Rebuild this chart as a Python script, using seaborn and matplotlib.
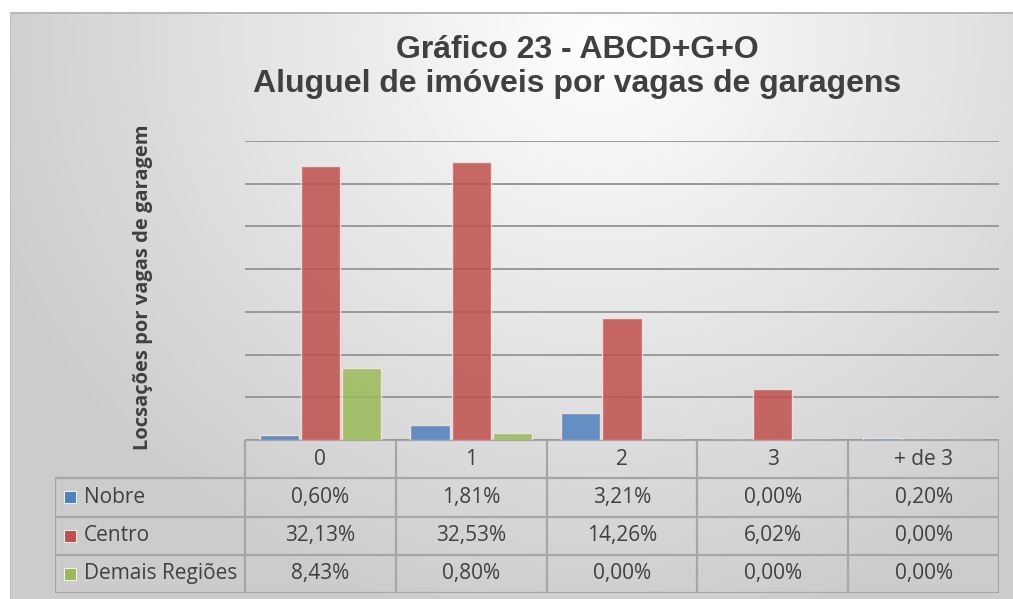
import numpy as np
import pandas as pd
import matplotlib
matplotlib.use("Agg")
import matplotlib.pyplot as plt
import seaborn as sns

# percentual de locações por número de vagas de garagem
categorias = ['0', '1', '2', '3', '+ de 3']
regioes = ['Nobre', 'Centro', 'Demais Regiões']
nobre = [0.60, 1.81, 3.21, 0.00, 0.20]
centro = [32.13, 32.53, 14.26, 6.02, 0.00]
demais = [8.43, 0.80, 0.00, 0.00, 0.00]
cores = ['#4f81bd', '#c0504d', '#9bbb59']

valores = {'Nobre': nobre, 'Centro': centro, 'Demais Regiões': demais}
rows = []
for reg in regioes:
    for cat, v in zip(categorias, valores[reg]):
        rows.append([cat, reg, v])
df = pd.DataFrame(rows, columns=['vagas', 'regiao', 'pct'])

sns.set_style('white')
plt.rcParams['font.family'] = ['Open Sans', 'DejaVu Sans']

W, H = 1013, 599
fig = plt.figure(figsize=(W / 100, H / 100), dpi=100)

# fundo em degradê (estilo Excel)
bg = fig.add_axes([0, 0, 1, 1], zorder=-10)
yy, xx = np.mgrid[0:H, 0:W]
d = np.sqrt(((xx - 600) / 650.0) ** 2 + ((yy - 40) / 600.0) ** 2)
val = 1 - 0.2 * np.clip(d, 0, 1)
img = np.dstack([val, val, val])
img[:12, :] = 1.0
img[:, :10] = 1.0
img[12:14, 10:] = 0.72
img[12:, 10:11] = 0.75
bg.imshow(img, aspect='auto', interpolation='bilinear')
bg.axis('off')

# área do gráfico
L, R, T, B = 245, 999, 141, 440
ax = fig.add_axes([L / W, 1 - B / H, (R - L) / W, (B - T) / H])
ax.patch.set_alpha(0)
sns.barplot(data=df, x='vagas', y='pct', hue='regiao', order=categorias,
            hue_order=regioes, palette=cores, saturation=1, width=0.82, gap=0.05,
            alpha=0.85, edgecolor='#f6e6e6', linewidth=1, legend=False, ax=ax)
ax.set_ylim(0, 35)
ax.set_xlim(-0.5, len(categorias) - 0.5)
ax.set_yticks(range(0, 36, 5))
ax.yaxis.grid(True, color='#999999', linewidth=1.4)
ax.set_axisbelow(True)
ax.tick_params(length=0, labelleft=False, labelbottom=False)
ax.set_xlabel('')
ax.set_ylabel('')
sns.despine(ax=ax, left=True, bottom=True)

# tabela de dados (eixo próprio, mesmas colunas do gráfico)
TL, TB = 55, 593
ncat = len(categorias)
xl = -0.5 - (L - TL) / ((R - L) / ncat)
nlin = len(regioes) + 1
tax = fig.add_axes([TL / W, 1 - TB / H, (R - TL) / W, (TB - B) / H])
tax.set_xlim(xl, ncat - 0.5)
tax.set_ylim(nlin, 0)
tax.axis('off')
lc, lw = '#a6a6a6', 1.6
tax.hlines(0, -0.5, ncat - 0.5, color=lc, lw=lw)
tax.hlines(np.arange(1, nlin + 1), xl, ncat - 0.5, color=lc, lw=lw)
tax.vlines(np.arange(ncat + 1) - 0.5, 0, nlin, color=lc, lw=lw)
tax.vlines(xl, 1, nlin, color=lc, lw=lw)
txt_color = '#404040'
fs = 15
for j, cat in enumerate(categorias):
    tax.text(j, 0.5, cat, ha='center', va='center', fontsize=fs, color=txt_color)
for i, reg in enumerate(regioes, start=1):
    tax.scatter([xl + 0.1], [i + 0.5], marker='s', s=85, color=cores[i - 1],
                edgecolor='white', linewidth=0.6, clip_on=False)
    tax.text(xl + 0.19, i + 0.5, reg, ha='left', va='center', fontsize=fs, color=txt_color)
    for j, v in enumerate(valores[reg]):
        tax.text(j, i + 0.5, f'{v:.2f}%'.replace('.', ','), ha='center', va='center',
                 fontsize=fs, color=txt_color)

fig.text(577 / W, 1 - 67 / H, 'Gráfico 23 - ABCD+G+O\nAluguel de imóveis por vagas de garagens',
         ha='center', va='center', fontsize=23, fontweight='bold',
         family='Liberation Sans', color='#404040', linespacing=1.2)
fig.text(143 / W, 1 - 287 / H, 'Locsações por vagas de garagem', rotation=90,
         ha='center', va='center', fontsize=14.5, fontweight='bold', color='#404040')

fig.savefig('out.png', dpi=100)
